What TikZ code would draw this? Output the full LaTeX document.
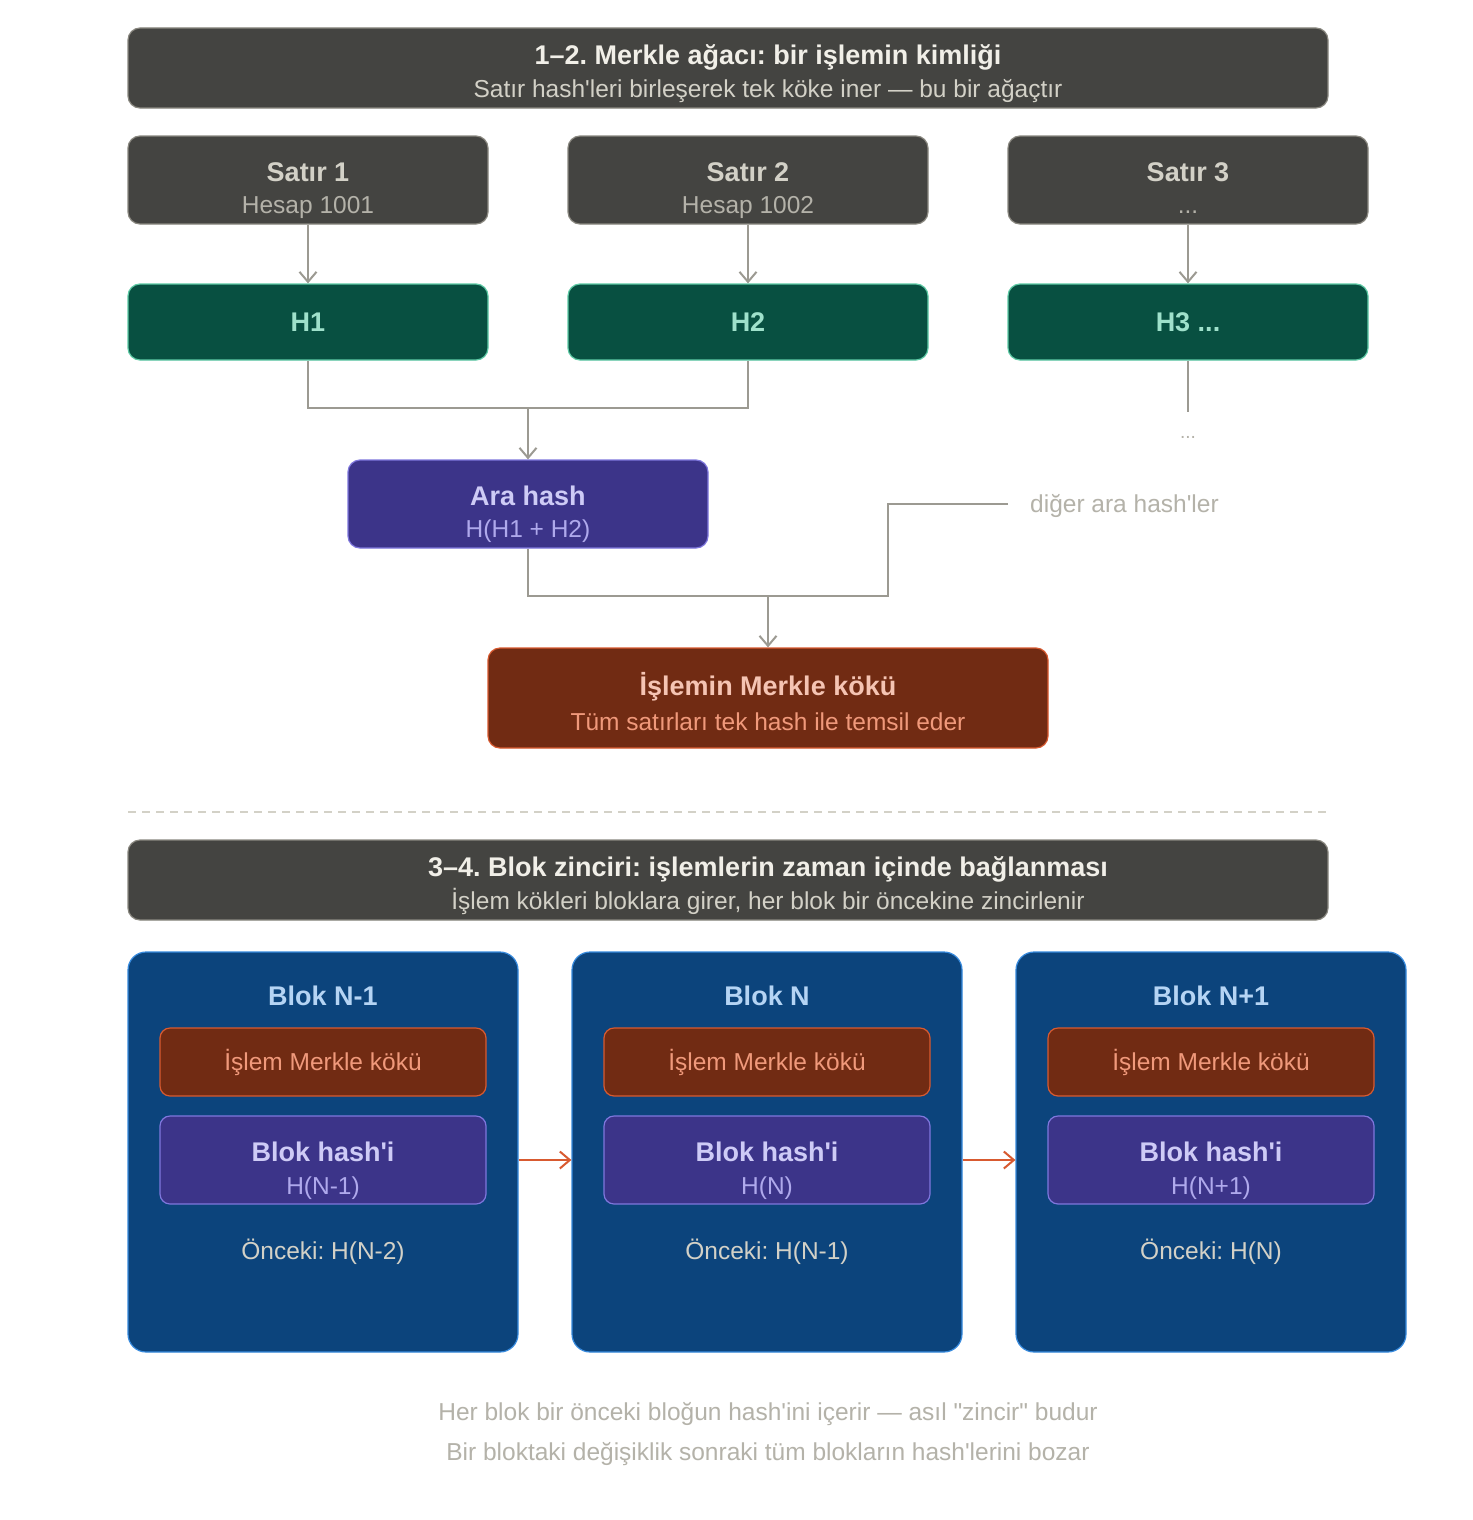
\documentclass[tikz,border=0pt]{standalone}
\usepackage{fontspec}
\newfontfamily\F{Liberation Sans}
\usetikzlibrary{arrows.meta}
\definecolor{cHdr}{HTML}{444441}
\definecolor{cHdrB}{HTML}{8A8880}
\definecolor{cTitle}{HTML}{F1EFE8}
\definecolor{cSub}{HTML}{D3D1C7}
\definecolor{cSub2}{HTML}{B4B2A9}
\definecolor{cTeal}{HTML}{085041}
\definecolor{cTealB}{HTML}{5DCAA5}
\definecolor{cTealT}{HTML}{9FE1CB}
\definecolor{cPur}{HTML}{3C3489}
\definecolor{cPurB}{HTML}{7F77DD}
\definecolor{cPurT}{HTML}{CECBF6}
\definecolor{cPurS}{HTML}{AFA9EC}
\definecolor{cCor}{HTML}{712B13}
\definecolor{cCorB}{HTML}{D85A30}
\definecolor{cCorT}{HTML}{F5C4B3}
\definecolor{cCorS}{HTML}{F0997B}
\definecolor{cBlu}{HTML}{0C447C}
\definecolor{cBluB}{HTML}{378ADD}
\definecolor{cBluT}{HTML}{B5D4F4}
\definecolor{cLine}{HTML}{9C9A92}
\definecolor{cDash}{HTML}{D3D1C7}
\begin{document}
\frenchspacing
\begin{tikzpicture}[x=1pt,y=-1pt,
  box/.style={rounded corners=12pt, line width=1.2pt, inner sep=0pt},
  hdr/.style={box, fill=cHdr, draw=cHdrB},
  teal/.style={box, fill=cTeal, draw=cTealB},
  pur/.style={box, fill=cPur, draw=cPurB},
  cor/.style={box, fill=cCor, draw=cCorB},
  blu/.style={box, fill=cBlu, draw=cBluB, rounded corners=18pt},
  txt/.style={inner sep=0pt, text depth=0pt, anchor=center},
  big/.style={txt, text height=19.3pt, font=\F\fontsize{27}{32}\selectfont\bfseries},
  sm/.style={txt, text height=17.5pt, font=\F\fontsize{24.5}{29}\selectfont},
  conn/.style={draw=cLine, line width=2pt},
  arr/.style={-{Straight Barb[length=10pt,width=17pt,line width=2pt]}},
  oarr/.style={draw=cCorB, line width=2pt, -{Straight Barb[length=10pt,width=17pt,line width=2pt]}}
]
\useasboundingbox[fill=white] (0,0) rectangle (1472,1520);

% header 1
\node[hdr, minimum width=1200pt, minimum height=80pt] (t1) at (728,68) {};
\node[big, text=cTitle] (t1a) at (768,55) {1–2. Merkle ağacı: bir işlemin kimliği};
\node[sm, text=cSub] (t1b) at (768,89) {Satır hash'leri birleşerek tek köke iner — bu bir ağaçtır};

% rows
\node[hdr, minimum width=360pt, minimum height=88pt] (s1) at (308,180) {};
\node[hdr, minimum width=360pt, minimum height=88pt] (s2) at (748,180) {};
\node[hdr, minimum width=360pt, minimum height=88pt] (s3) at (1188,180) {};
\node[big, text=cSub] (s1a) at (308,172) {Satır 1};
\node[sm, text=cSub2] (s1b) at (308,205) {Hesap 1001};
\node[big, text=cSub] (s2a) at (748,172) {Satır 2};
\node[sm, text=cSub2] (s2b) at (748,205) {Hesap 1002};
\node[big, text=cSub] (s3a) at (1188,172) {Satır 3};
\node[sm, text=cSub2] (s3b) at (1188,205) {...};

% hashes
\node[teal, minimum width=360pt, minimum height=76pt] (h1) at (308,322) {};
\node[teal, minimum width=360pt, minimum height=76pt] (h2) at (748,322) {};
\node[teal, minimum width=360pt, minimum height=76pt] (h3) at (1188,322) {};
\node[big, text=cTealT] (h1t) at (308,322) {H1};
\node[big, text=cTealT] (h2t) at (748,322) {H2};
\node[big, text=cTealT] (h3t) at (1188,322) {H3 ...};

\draw[conn, arr] (s1) -- (h1);
\draw[conn, arr] (s2) -- (h2);
\draw[conn, arr] (s3) -- (h3);

% ara hash
\node[pur, minimum width=360pt, minimum height=88pt] (ara) at (528,504) {};
\node[big, text=cPurT] (araa) at (528,496) {Ara hash};
\node[sm, text=cPurS] (arab) at (528,529) {H(H1 + H2)};

\coordinate (j1) at (528,408);
\draw[conn] (h1.south) |- (j1);
\draw[conn] (h2.south) |- (j1);
\draw[conn, arr] (j1) -- (ara.north);

\coordinate (h3e) at (1188,412);
\draw[conn] (h3.south) -- (h3e);
\node[txt, text height=4pt, font=\F\fontsize{19}{22}\selectfont, text=cSub2] (h3d) at (1188,436) {...};

% root
\node[cor, minimum width=560pt, minimum height=100pt] (root) at (768,698) {};
\node[big, text=cCorT] (roota) at (768,686) {İşlemin Merkle kökü};
\node[sm, text=cCorS] (rootb) at (768,722) {Tüm satırları tek hash ile temsil eder};

\node[sm, anchor=west, text=cSub2] (dig) at (1030,504) {diğer ara hash'ler};
\coordinate (dg) at (1008,504);
\coordinate (j2) at (768,596);
\draw[conn] (ara.south) |- (j2);
\draw[conn] (dg) -- ++(-120,0) |- (j2);
\draw[conn, arr] (j2) -- (root.north);

% separator
\coordinate (dl1) at (128,812);
\coordinate (dl2) at (1328,812);
\draw[draw=cDash, line width=1.2pt, dash pattern=on 8pt off 6pt] (dl1) -- (dl2);

% header 2
\node[hdr, minimum width=1200pt, minimum height=80pt] (t2) at (728,880) {};
\node[big, text=cTitle] (t2a) at (768,867) {3–4. Blok zinciri: işlemlerin zaman içinde bağlanması};
\node[sm, text=cSub] (t2b) at (768,901) {İşlem kökleri bloklara girer, her blok bir öncekine zincirlenir};

% blocks
\foreach \i/\x/\t/\h/\p in {1/323/Blok N-1/H(N-1)/H(N-2), 2/767/Blok N/H(N)/H(N-1), 3/1211/Blok N+1/H(N+1)/H(N)} {
  \node[blu, minimum width=390pt, minimum height=400pt] (b\i) at (\x,1152) {};
  \node[big, text=cBluT] (bt\i) at (\x,996) {\t};
  \node[cor, rounded corners=10pt, minimum width=326pt, minimum height=68pt] (mb\i) at (\x,1062) {};
  \node[sm, text=cCorS] (mbt\i) at (\x,1062) {İşlem Merkle kökü};
  \node[pur, rounded corners=10pt, minimum width=326pt, minimum height=88pt] (hb\i) at (\x,1160) {};
  \node[big, text=cPurT] (hbt\i) at (\x,1152) {Blok hash'i};
  \node[sm, text=cPurS] (hbs\i) at (\x,1186) {\h};
  \node[sm, text=cSub] (pv\i) at (\x,1251) {Önceki: \p};
}
\draw[oarr] (b1.east |- hb1.center) -- (b2.west |- hb1.center);
\draw[oarr] (b2.east |- hb2.center) -- (b3.west |- hb2.center);

% footer
\node[sm, text=cSub2] (f1) at (768,1412) {Her blok bir önceki bloğun hash'ini içerir — asıl "zincir" budur};
\node[sm, text=cSub2] (f2) at (768,1452) {Bir bloktaki değişiklik sonraki tüm blokların hash'lerini bozar};
\end{tikzpicture}
\end{document}
